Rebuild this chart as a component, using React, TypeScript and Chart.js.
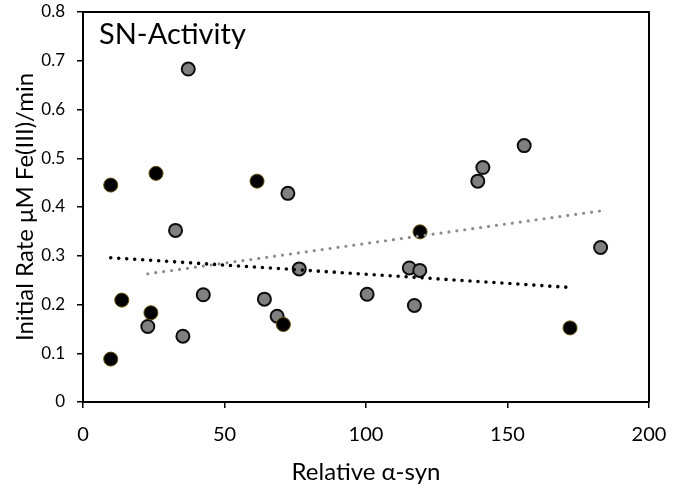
import React, { useEffect, useRef } from 'react';
import { Chart, registerables } from 'chart.js';

Chart.register(...registerables);

// ---- data ----
const grayX = [37.2, 72.4, 155.9, 141.3, 139.5, 182.9, 115.3, 119.0, 100.4, 117.1, 32.7, 22.9, 35.3, 42.5, 64.1, 68.6, 76.4];
const grayY = [0.683, 0.428, 0.526, 0.481, 0.453, 0.317, 0.275, 0.270, 0.221, 0.198, 0.352, 0.155, 0.135, 0.220, 0.211, 0.176, 0.273];

const blackX = [9.8, 25.8, 61.5, 119.1, 172.1, 13.7, 24.0, 9.8, 70.8];
const blackY = [0.445, 0.469, 0.453, 0.349, 0.152, 0.209, 0.183, 0.088, 0.159];

const grayTrendX = [22.9, 182.9];
const grayTrendY = [0.263, 0.392];
const blackTrendX = [9.8, 172.1];
const blackTrendY = [0.296, 0.235];

const xTickValues = [0, 50, 100, 150, 200];
const xTickLabels = ['0', '50', '100', '150', '200'];
const yTickValues = [0, 0.1, 0.2, 0.3, 0.4, 0.5, 0.6, 0.7, 0.8];
const yTickLabels = ['0', '0.1', '0.2', '0.3', '0.4', '0.5', '0.6', '0.7', '0.8'];

const panelTitle = 'SN-Activity';
const xTitle = 'Relative α-syn';
const yTitle = 'Initial Rate μM Fe(III)/min';

const FONT = 'Lato, "Open Sans", sans-serif';

const toPoints = (xs: number[], ys: number[]) => xs.map((x, i) => ({ x, y: ys[i] }));

export default function App() {
  const ref = useRef<HTMLCanvasElement | null>(null);

  useEffect(() => {
    if (!ref.current) return;

    const framePlugin = {
      id: 'frameAndLabel',
      afterDatasetsDraw(chart: any) {
        const { ctx, chartArea } = chart;
        ctx.save();
        ctx.strokeStyle = '#000';
        ctx.lineWidth = 2;
        ctx.beginPath();
        ctx.moveTo(chartArea.left, chartArea.top);
        ctx.lineTo(chartArea.right, chartArea.top);
        ctx.lineTo(chartArea.right, chartArea.bottom);
        ctx.stroke();
        ctx.fillStyle = '#000';
        ctx.font = `29px ${FONT}`;
        ctx.textAlign = 'left';
        ctx.textBaseline = 'alphabetic';
        ctx.fillText(panelTitle, chartArea.left + 16, chartArea.top + 31.5);
        ctx.restore();
      },
    };

    const chart = new Chart(ref.current, {
      type: 'scatter',
      data: {
        datasets: [
          {
            type: 'line',
            data: toPoints(grayTrendX, grayTrendY),
            borderColor: '#8c8c8c',
            borderWidth: 3.2,
            borderDash: [0, 8],
            borderCapStyle: 'round',
            pointRadius: 0,
            fill: false,
            showLine: true,
          } as any,
          {
            type: 'line',
            data: toPoints(blackTrendX, blackTrendY),
            borderColor: '#000',
            borderWidth: 3.6,
            borderDash: [0, 8],
            borderCapStyle: 'round',
            pointRadius: 0,
            fill: false,
            showLine: true,
          } as any,
          {
            data: toPoints(blackX, blackY),
            backgroundColor: '#000',
            borderColor: '#5a4800',
            borderWidth: 1,
            pointRadius: 7,
            pointHoverRadius: 7,
          },
          {
            data: toPoints(grayX, grayY),
            backgroundColor: '#808080',
            borderColor: '#0d0d0d',
            borderWidth: 2,
            pointRadius: 6.5,
            pointHoverRadius: 6.5,
          },
        ],
      },
      options: {
        animation: false,
        responsive: false,
        devicePixelRatio: 1,
        layout: { padding: { top: 12, right: 26, left: 0, bottom: 0 } },
        plugins: {
          legend: { display: false },
          tooltip: { enabled: false },
          title: { display: false },
        },
        scales: {
          x: {
            type: 'linear',
            min: 0,
            max: 200,
            afterBuildTicks: (scale: any) => {
              scale.ticks = xTickValues.map((v) => ({ value: v }));
            },
            afterFit: (scale: any) => {
              scale.height = 88;
              scale.paddingLeft = 0;
              scale.paddingRight = 0;
            },
            ticks: {
              color: '#000',
              font: { family: FONT, size: 20 },
              padding: 14.4,
              maxRotation: 0,
              callback: (_v: any, i: number) => xTickLabels[i],
            },
            grid: {
              drawOnChartArea: false,
              drawTicks: true,
              tickLength: 6,
              color: '#000',
              lineWidth: 1.5,
            },
            border: { display: true, color: '#000', width: 2 },
            title: {
              display: true,
              text: xTitle,
              color: '#000',
              font: { family: FONT, size: 24 },
              padding: { top: 0, bottom: 3.6 },
            },
          },
          y: {
            type: 'linear',
            min: 0,
            max: 0.8,
            afterBuildTicks: (scale: any) => {
              scale.ticks = yTickValues.map((v) => ({ value: v }));
            },
            afterFit: (scale: any) => {
              scale.width = 83;
              scale.paddingTop = 0;
              scale.paddingBottom = 0;
            },
            ticks: {
              color: '#000',
              font: { family: FONT, size: 17 },
              padding: 12,
              callback: (_v: any, i: number) => yTickLabels[i],
            },
            grid: {
              drawOnChartArea: false,
              drawTicks: true,
              tickLength: 6,
              color: '#000',
              lineWidth: 1.5,
            },
            border: { display: true, color: '#000', width: 2 },
            title: {
              display: true,
              text: yTitle,
              color: '#000',
              font: { family: FONT, size: 24 },
              padding: { top: 10.6, bottom: 0 },
            },
          },
        },
      },
      plugins: [framePlugin],
    } as any);

    return () => chart.destroy();
  }, []);

  return (
    <div style={{ position: 'absolute', left: 0, top: 0, width: 675, height: 490, background: '#fff' }}>
      <canvas ref={ref} width={675} height={490} style={{ width: 675, height: 490, display: 'block' }} />
    </div>
  );
}
